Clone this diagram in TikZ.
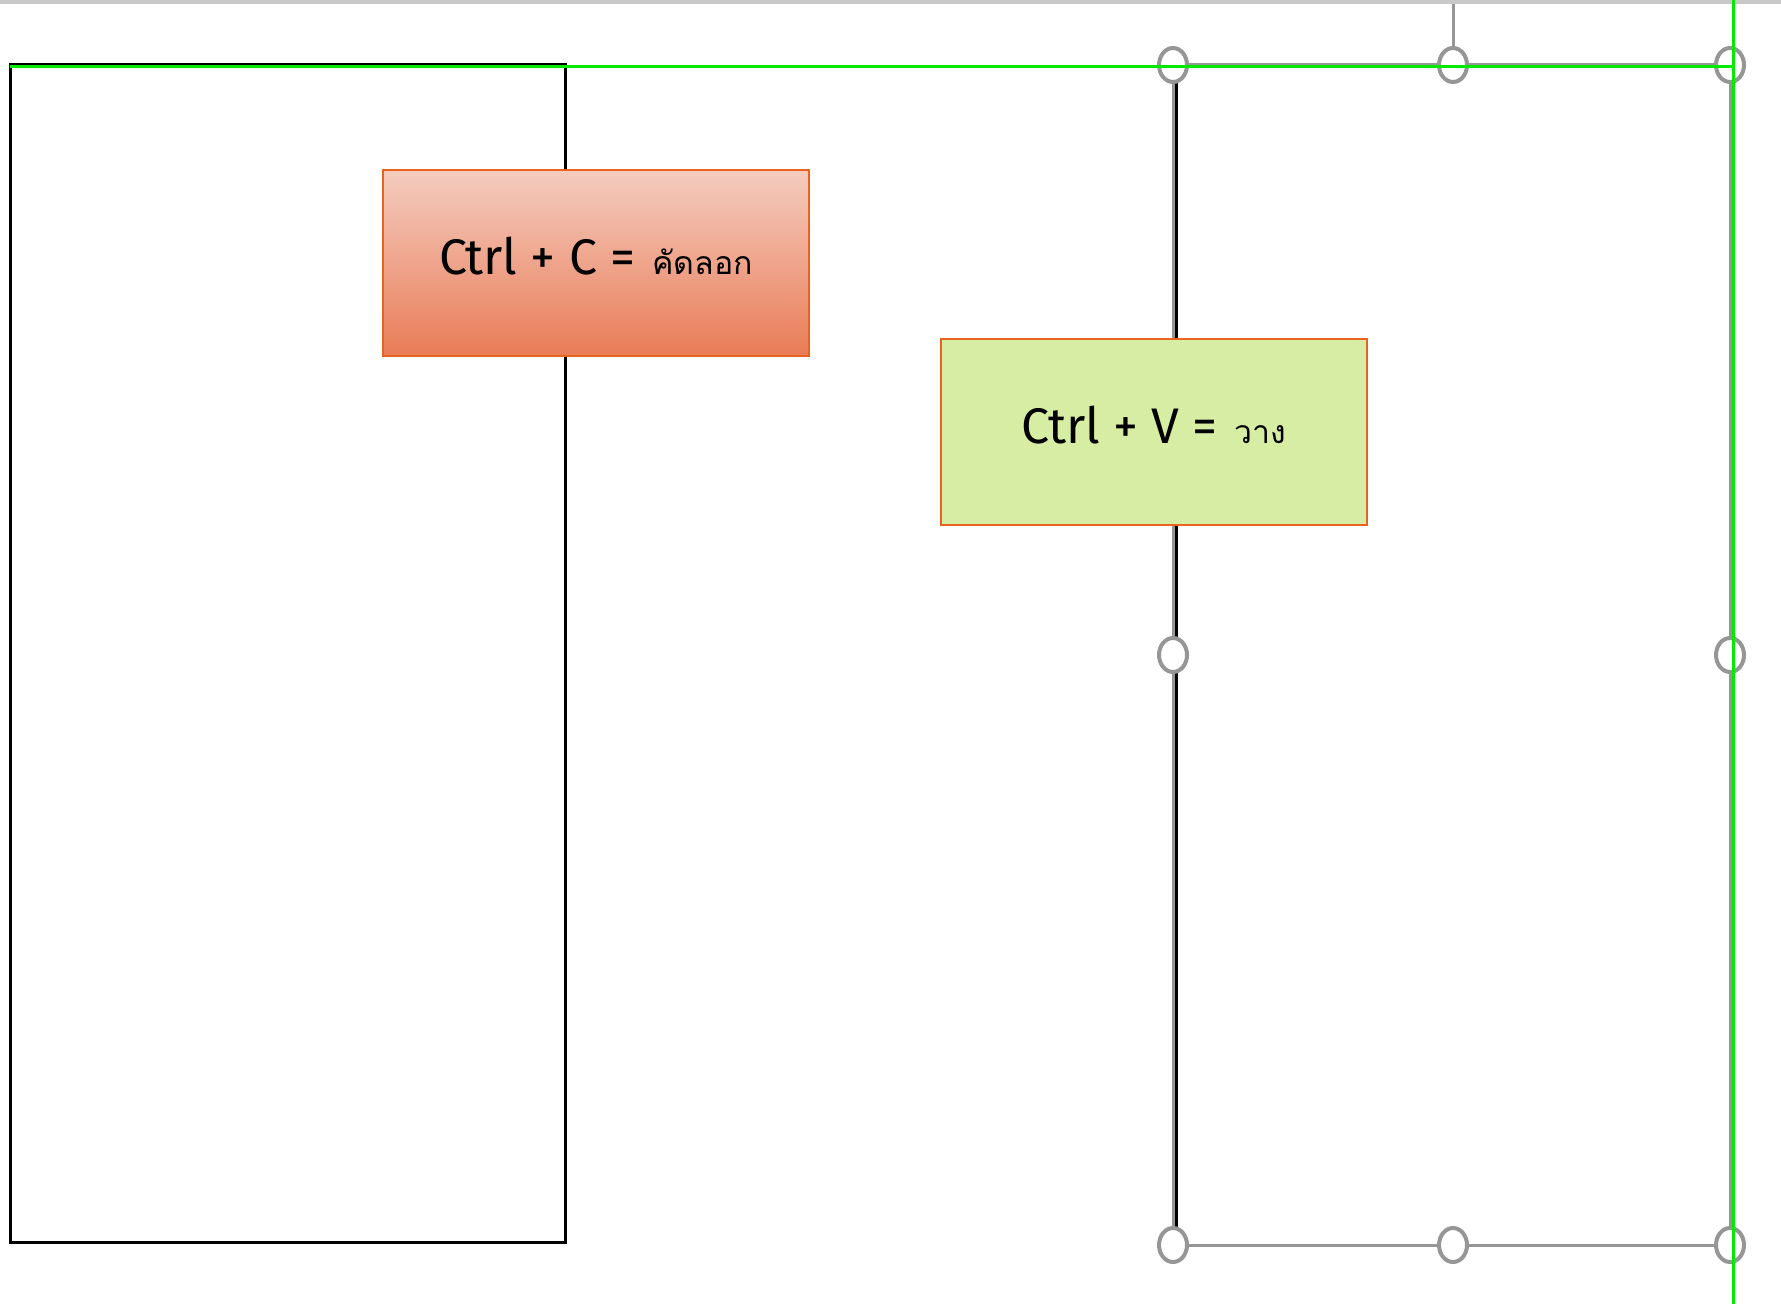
\documentclass[tikz,border=0pt]{standalone}
\usepackage{fontspec}
\setmainfont{Fira Sans}
\newfontfamily\thaifont[Script=Thai]{Loma}
\usetikzlibrary{positioning}

\definecolor{selgray}{RGB}{150,150,150}
\definecolor{bargray}{RGB}{200,200,200}
\definecolor{guidegreen}{RGB}{0,235,0}
\definecolor{boxorange}{RGB}{232,100,30}
\definecolor{copytop}{RGB}{244,204,191}
\definecolor{copybottom}{RGB}{233,124,87}
\definecolor{pastefill}{RGB}{215,237,163}

\tikzset{
  keybox/.style={draw=boxorange, line width=1pt, minimum width=213pt, minimum height=93pt, inner sep=0pt, text height=14pt, text depth=2pt, font=\fontsize{25}{30}\selectfont},
  handle/.style={draw=selgray, line width=2pt, fill=white},
  guide/.style={guidegreen, line width=1.5pt}
}
\newcommand{\thaiw}[1]{\hspace{2pt}{\thaifont\fontsize{16}{20}\selectfont #1}}

\begin{document}
\begin{tikzpicture}[x=0.5pt, y=-0.5pt]
\useasboundingbox (0,0) rectangle (1781,1304);
\fill [bargray] (0,0) rectangle (1781,4);
% left page
\draw [line width=1.5pt] (10,65) rectangle (565,1242);
% right page
\draw [line width=1.5pt] (1176,65) rectangle (1730,1245);
% selection frame
\draw [selgray, line width=1.5pt] (1453,4) -- (1453,65);
\draw [selgray, line width=1.5pt] (1173,65) rectangle (1730,1245);
\foreach \x in {1173,1453,1730}
\foreach \y in {65,1245}
{
\draw [handle] (\x,\y) ellipse [x radius=14, y radius=17];
}
\draw [handle] (1173,655) ellipse [x radius=14, y radius=17];
\draw [handle] (1730,655) ellipse [x radius=14, y radius=17];
% boxes
\node [keybox, top color=copytop, bottom color=copybottom] (copybox) at (596,263)
  {Ctrl + C = \thaiw{คัดลอก}};
\node [keybox, fill=pastefill] (pastebox) at (1154,432)
  {Ctrl + V = \thaiw{วาง}};
% guides
\draw [guide] (10,67) -- (1733,67);
\draw [guide] (1733,0) -- (1733,1304);
\end{tikzpicture}
\end{document}
